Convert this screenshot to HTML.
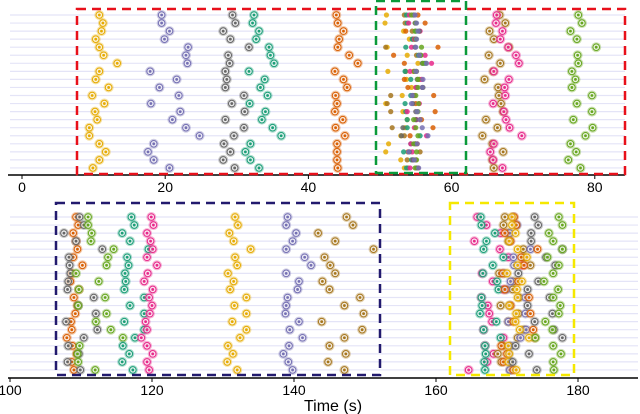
<!DOCTYPE html>
<html><head><meta charset="utf-8"><style>
body{margin:0;background:#fff}
svg{display:block;font-family:"Liberation Sans","DejaVu Sans",sans-serif}
</style></head><body>
<svg id="chart" width="640" height="414" viewBox="0 0 640 414" xmlns="http://www.w3.org/2000/svg">
<g id="topPanel"></g>
<g id="botPanel"></g>
<text x="333" y="411" text-anchor="middle" font-size="16" fill="#000">Time (s)</text>
</svg>
<script>
const colors = {yellow:"#e6ab02",purple:"#7570b3",gray:"#666666",teal:"#1b9e77",orange:"#d95f02",pink:"#e7298a",brown:"#a6761d",green:"#66a61e"};
const topYellow=[10.8,11.3,11.1,10.3,10.8,11.4,13.3,10.8,10.3,12.1,9.8,11.5,10.2,10.5,9.4,9.4,10.8,11.7,10.8,9.9];
const topPurple=[19.5,19.5,20.6,19.9,23.2,22.9,23.1,17.9,21.6,19.2,21.9,18.0,22.1,21.0,22.9,24.8,18.4,17.6,18.4,20.6];
const topGray=[29.4,29.8,28.1,29.1,31.7,28.8,29.0,28.4,28.6,28.4,31.0,29.3,31.1,28.4,31.0,29.6,28.2,29.1,28.1,29.7];
const topTeal=[32.4,32.2,33.1,32.7,34.5,34.7,35.2,31.7,33.9,33.3,34.3,31.8,34.0,33.5,35.0,36.2,31.9,31.2,31.9,33.1];
const topOrange=[43.9,44.1,44.9,44.3,44.1,45.7,46.9,43.7,44.9,45.4,43.8,44.0,43.7,44.8,43.8,45.1,44.0,44.0,44.0,44.1];
const topPink=[66.3,66.2,67.1,66.8,67.9,69.0,69.4,65.9,68.0,67.4,67.5,65.8,67.3,67.6,68.1,69.8,65.9,65.4,65.8,67.1];
const topBrown=[66.7,67.5,65.3,65.9,68.0,65.2,66.8,65.8,64.6,66.5,66.6,66.9,67.2,64.8,66.4,64.3,65.7,67.2,65.7,65.9];
const topGreen=[77.7,78.2,76.6,77.5,80.2,77.6,77.7,76.8,77.3,76.8,79.6,77.5,79.6,77.0,79.7,78.7,76.6,77.4,76.3,78.0];
const clYellow=[50.9,50.7,53.3,54.1,51.0,53.8,55.3,51.1,53.7,54.4,53.1,50.8,53.2,53.8,53.5,52.9,51.2,50.8,52.9,53.4];
const clBrown=[53.4,53.5,54.5,54.6,50.8,55.1,56.4,53.6,55.5,55.9,51.5,51.0,51.5,55.6,51.7,53.4,55.0,55.6,53.8,53.9];
const clOrange=[55.3,56.3,53.6,54.8,58.1,51.9,53.4,54.7,53.4,53.9,57.5,55.0,57.7,55.8,57.4,54.2,55.2,53.9,55.0,55.3];
const clTeal=[53.7,53.8,55.0,54.5,53.6,55.4,56.2,53.5,54.3,55.1,54.3,53.5,53.6,53.8,53.8,55.6,54.3,53.3,54.4,53.7];
const clPink=[54.1,54.0,55.6,54.8,54.4,56.3,57.2,54.2,55.8,55.0,54.8,55.5,53.8,55.1,54.8,56.5,54.3,54.5,54.6,54.2];
const clPurple=[54.9,55.1,55.3,55.1,55.0,55.5,56.5,55.0,56.0,55.9,54.5,54.4,55.2,55.6,55.9,56.7,55.2,54.0,54.8,55.4];
const clGreen=[54.4,55.0,54.9,55.0,55.8,55.7,56.0,54.8,55.3,55.3,55.0,55.4,55.3,54.7,55.0,55.3,54.7,55.1,55.1,54.9];
const clGray=[54.7,54.9,55.5,55.0,54.9,55.7,55.9,55.1,55.2,56.0,54.6,54.6,55.0,55.0,53.2,53.0,54.9,54.1,54.6,55.1];
const botOrange=[109.3,109.6,108.9,109.3,109.5,108.9,110.2,108.7,108.5,109.7,109.0,109.5,109.2,108.6,108.7,108.0,108.8,109.4,108.7,109.0];
const botGray=[109.8,110.4,107.6,109.3,113.0,108.3,108.4,108.5,108.2,108.1,111.8,109.6,112.1,107.9,112.3,110.4,108.2,109.7,108.1,109.9];
const botGreen=[111.0,111.0,111.5,111.4,114.6,113.8,113.6,109.3,112.5,109.7,113.4,109.6,113.6,112.1,114.2,115.9,109.8,109.5,109.6,112.0];
const botTeal=[117.1,117.5,115.8,116.9,119.5,116.5,116.7,116.2,116.3,116.1,118.9,116.9,118.9,116.1,118.9,117.6,115.9,116.8,115.8,117.3];
const botPink=[119.9,120.2,119.3,119.8,120.1,119.3,120.7,119.4,118.9,120.1,119.6,120.0,119.7,119.1,119.3,118.5,119.3,120.1,119.3,119.6];
const botYellow=[131.7,132.1,130.9,131.5,133.9,131.7,132.0,130.7,131.5,131.0,133.3,131.6,133.3,131.3,133.3,132.4,130.7,131.4,130.6,132.0];
const botPurple=[139.1,138.9,140.3,139.8,138.9,141.5,142.4,138.9,140.7,140.5,139.1,138.9,138.8,140.7,139.4,141.2,139.3,138.5,139.2,139.8];
const botBrown=[147.4,148.3,143.4,145.8,151.2,144.3,145.1,145.8,144.0,145.0,149.3,147.1,149.8,143.9,149.6,147.1,145.0,147.3,144.8,147.1];
const b2Pink=[165.8,167.1,169.1,165.4,169.0,170.2,172.2,166.5,168.0,169.5,166.4,167.3,167.5,167.9,166.7,169.5,166.9,168.1,167.2,164.6];
const b2Teal=[166.3,166.4,168.3,167.1,166.7,169.5,168.0,166.6,168.6,168.8,166.4,166.5,166.2,168.5,166.7,169.1,166.9,167.0,166.8,166.9];
const b2Brown=[169.7,169.5,170.2,170.2,172.3,172.4,173.3,168.9,170.9,170.8,171.7,169.1,171.6,170.2,172.4,171.5,169.4,168.7,169.2,170.5];
const b2Orange=[171.0,171.3,169.7,170.5,174.3,172.0,172.4,169.4,171.6,169.7,173.1,170.5,173.3,170.9,173.7,173.9,169.2,170.0,169.5,170.9];
const b2Yellow=[170.7,170.7,171.2,170.3,171.5,172.8,171.5,170.0,172.1,171.4,171.5,170.3,171.3,171.2,171.8,173.1,170.2,170.3,170.2,171.3];
const b2Purple=[170.9,171.4,170.4,170.4,173.3,170.9,171.0,169.6,170.5,169.9,172.6,170.4,172.6,170.2,172.7,171.9,170.5,170.2,170.5,170.4];
const b2Gray=[173.9,174.4,173.4,173.4,177.8,175.5,176.8,171.6,174.4,172.9,176.0,172.9,176.4,173.9,176.6,177.8,171.2,173.1,170.8,174.2];
const b2Green=[177.3,177.8,175.9,176.5,177.8,175.7,177.3,176.5,175.2,177.2,176.5,177.5,177.3,175.4,176.4,174.0,176.5,177.6,176.5,176.6];
const topTicks=[0,20,40,60,80];
const botTicks=[100,120,140,160,180];

const NS="http://www.w3.org/2000/svg";
function mk(parent,tag,attrs){const e=document.createElementNS(NS,tag);for(const k in attrs)e.setAttribute(k,attrs[k]);parent.appendChild(e);return e;}
const xTop=v=>22+(v-0)*7.16;
const xBot=v=>10+(v-100)*7.1;
const rowTop=i=>15+i*8.05;
const rowBot=i=>217+i*8.05;

function panel(g,x,row,x0,x1,axisY,ticks){
  for(let i=0;i<20;i++){
    const l=mk(g,"line",{x1:x0,x2:x1,y1:row(i),y2:row(i),stroke:"#e4e4f7","stroke-width":1.2});
    
    
  }
  const ax=mk(g,"line",{x1:x0-2,x2:x1,y1:axisY,y2:axisY,stroke:"#000","stroke-width":1.5});
  
  
  ticks.forEach(t=>{
    mk(g,"line",{x1:x(t),x2:x(t),y1:axisY,y2:axisY+4,stroke:"#000","stroke-width":1});
    const tx=mk(g,"text",{x:x(t),y:axisY+17,"text-anchor":"middle","font-size":14,fill:"#000"});
    tx.textContent=t;
    
    
  });
}
function ringed(g,vals,col,x,row,name){
  vals.forEach((v,i)=>{
    const m=mk(g,"g",{});
    
    
    mk(m,"circle",{cx:x(v),cy:row(i),r:5,fill:col,"fill-opacity":0.35});
    mk(m,"circle",{cx:x(v),cy:row(i),r:3.3,fill:"#fff","fill-opacity":0.6,stroke:col,"stroke-width":1});
    mk(m,"circle",{cx:x(v),cy:row(i),r:1.4,fill:col});
  });
}
function dots(g,vals,col,x,row,name){
  vals.forEach((v,i)=>{
    const c=mk(g,"circle",{cx:x(v),cy:row(i),r:2.6,fill:col,"fill-opacity":0.85});
    
    
  });
}
function box(g,x,y,w,h,col,name){
  const r=mk(g,"rect",{x:x,y:y,width:w,height:h,fill:"none",stroke:col,"stroke-width":2.5,"stroke-dasharray":"9,6"});
  
  
}
const topG=document.getElementById("topPanel"), botG=document.getElementById("botPanel");
panel(topG,xTop,rowTop,10,625,175,topTicks);
panel(botG,xBot,rowBot,10,638,378,botTicks);

ringed(topG,topYellow,colors.yellow,xTop,rowTop,'marker-yellow');
ringed(topG,topPurple,colors.purple,xTop,rowTop,'marker-purple');
ringed(topG,topGray,colors.gray,xTop,rowTop,'marker-gray');
ringed(topG,topTeal,colors.teal,xTop,rowTop,'marker-teal');
ringed(topG,topOrange,colors.orange,xTop,rowTop,'marker-orange');
ringed(topG,topBrown,colors.brown,xTop,rowTop,'marker-brown');
ringed(topG,topPink,colors.pink,xTop,rowTop,'marker-pink');
ringed(topG,topGreen,colors.green,xTop,rowTop,'marker-green');
dots(topG,clYellow,colors.yellow,xTop,rowTop,'cluster-dot-yellow');
dots(topG,clBrown,colors.brown,xTop,rowTop,'cluster-dot-brown');
dots(topG,clOrange,colors.orange,xTop,rowTop,'cluster-dot-orange');
dots(topG,clTeal,colors.teal,xTop,rowTop,'cluster-dot-teal');
dots(topG,clPink,colors.pink,xTop,rowTop,'cluster-dot-pink');
dots(topG,clGray,colors.gray,xTop,rowTop,'cluster-dot-gray');
dots(topG,clGreen,colors.green,xTop,rowTop,'cluster-dot-green');
dots(topG,clPurple,colors.purple,xTop,rowTop,'cluster-dot-purple');

ringed(botG,botOrange,colors.orange,xBot,rowBot,'marker-orange');
ringed(botG,botGray,colors.gray,xBot,rowBot,'marker-gray');
ringed(botG,botGreen,colors.green,xBot,rowBot,'marker-green');
ringed(botG,botTeal,colors.teal,xBot,rowBot,'marker-teal');
ringed(botG,botPink,colors.pink,xBot,rowBot,'marker-pink');
ringed(botG,botYellow,colors.yellow,xBot,rowBot,'marker-yellow');
ringed(botG,botPurple,colors.purple,xBot,rowBot,'marker-purple');
ringed(botG,botBrown,colors.brown,xBot,rowBot,'marker-brown');
ringed(botG,b2Pink,colors.pink,xBot,rowBot,'marker-pink');
ringed(botG,b2Teal,colors.teal,xBot,rowBot,'marker-teal');
ringed(botG,b2Brown,colors.brown,xBot,rowBot,'marker-brown');
ringed(botG,b2Purple,colors.purple,xBot,rowBot,'marker-purple');
ringed(botG,b2Orange,colors.orange,xBot,rowBot,'marker-orange');
ringed(botG,b2Yellow,colors.yellow,xBot,rowBot,'marker-yellow');
ringed(botG,b2Gray,colors.gray,xBot,rowBot,'marker-gray');
ringed(botG,b2Green,colors.green,xBot,rowBot,'marker-green');

box(topG,77,9,548,165,"#e8101a",'highlight-box-red');
box(topG,376,1,90,172,"#0a9a3a",'highlight-box-green');
box(botG,56,203,324,172,"#221a6e",'highlight-box-navy');
box(botG,450,203,124,172,"#f5e800",'highlight-box-yellow');
</script>
</body></html>
